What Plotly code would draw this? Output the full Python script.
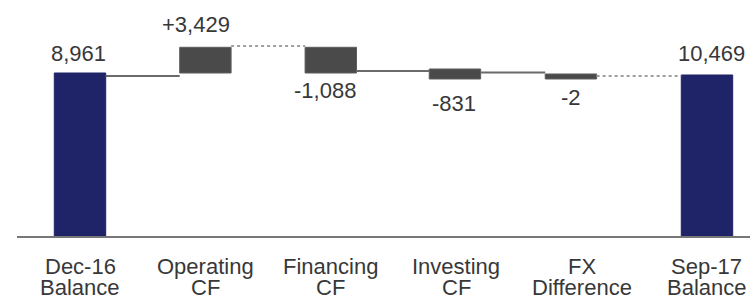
import plotly.graph_objects as go

# ---- data ----
cat_line1 = ["Dec-16", "Operating", "Financing", "Investing", "FX", "Sep-17"]
cat_line2 = ["Balance", "CF", "CF", "CF", "Difference", "Balance"]
values = [8961, 3429, -1088, -831, -2, 10469]
is_total = [True, False, False, False, False, True]

# drawn (not-to-scale) bar extents as they appear in the picture, in chart units
drawn_base = [0, 8961, 8961, 8632, 8632, 0]
drawn_top = [8961, 10375, 10375, 9182, 8907, 8852]
# connector levels between consecutive bars, as drawn
connector_level = [8797, 10446, 9072, 8990, 8797]
connector_dotted = [False, True, False, False, True]

# ---- styling ----
NAVY = "#1f2368"
DARK = "#4a4a4a"
TEXT = "#383838"
FONT = "Liberation Sans, Arial, sans-serif"
W = 0.41
x_shift = [0, 0, 0, -0.01, -0.085, 0]

idx = list(range(len(values)))
colors = [NAVY if t else DARK for t in is_total]
line_cols = [NAVY if t else "#5e5e5e" for t in is_total]

fig = go.Figure()
fig.add_trace(go.Bar(
    x=idx,
    y=[t - b for t, b in zip(drawn_top, drawn_base)],
    base=drawn_base,
    width=W,
    offset=[-W / 2 + s for s in x_shift],
    marker=dict(color=colors, line=dict(color=line_cols, width=1)),
    hoverinfo="skip",
))

for i, lvl in enumerate(connector_level):
    x0 = idx[i] + W / 2 + x_shift[i]
    x1 = idx[i + 1] - W / 2 + x_shift[i + 1]
    fig.add_trace(go.Scatter(
        x=[x0, x1], y=[lvl, lvl], mode="lines",
        line=dict(color="#a0a0a0" if connector_dotted[i] else "#6a6a6a",
                  width=2,
                  dash="dot" if connector_dotted[i] else "solid"),
        hoverinfo="skip",
    ))

# value labels
label_shift = [(-2, 20), (-9, 23), (-6, -17), (-1, -25), (0, -19), (5, 21)]
for i, v in enumerate(values):
    txt = f"{v:,}" if is_total[i] else f"{v:+,}"
    above = is_total[i] or v > 0
    y = drawn_top[i] if above else drawn_base[i]
    dx, dy = label_shift[i]
    fig.add_annotation(
        x=idx[i] + x_shift[i], y=y, xref="x", yref="y",
        text=txt, showarrow=False, xshift=dx, yshift=dy,
        yanchor="middle", xanchor="center",
        font=dict(family=FONT, size=22, color=TEXT),
    )

# category labels (two tight lines)
for i in idx:
    for line, ys in ((cat_line1[i], -30), (cat_line2[i], -51)):
        fig.add_annotation(
            x=idx[i], y=0, xref="x", yref="paper",
            text=line, showarrow=False, yshift=ys,
            yanchor="middle", xanchor="center",
            font=dict(family=FONT, size=22, color=TEXT),
        )

fig.update_layout(
    width=750, height=301,
    margin=dict(l=17, r=0, t=0, b=65),
    paper_bgcolor="white", plot_bgcolor="white",
    showlegend=False,
    barmode="overlay",
    xaxis=dict(range=[-0.5024, 5.343], showticklabels=False, showgrid=False,
               zeroline=False, showline=True, linecolor="#777777", linewidth=2,
               ticks=""),
    yaxis=dict(range=[0, 12975], visible=False),
)

# remove the default page margin so the 750x301 figure fills the window exactly
fig.write_html(
    "out.html",
    config={"displayModeBar": False, "staticPlot": True},
    post_script="document.body.style.margin='0';document.body.style.overflow='hidden';",
)
